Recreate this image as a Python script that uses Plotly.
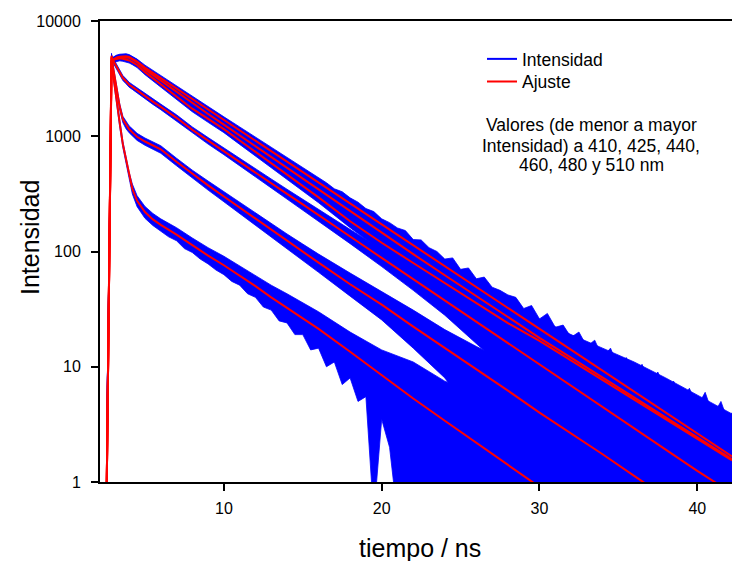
import plotly.graph_objects as go

# time axis (ns)
t_ns = [2.58, 2.75, 2.88, 3.0, 3.2, 3.4, 3.6, 3.8, 4.0, 4.2, 4.5, 5.0, 5.5, 6, 7, 8, 9, 10, 11, 12,
        13, 14, 15, 16, 18, 20, 22, 24, 26, 28, 30, 32, 34, 36, 38, 40, 42.2]

wavelengths = ["410", "425", "440", "460", "480", "510"]

# fitted decays (Ajuste)
fit_410 = [1, 150, 5000, 3300, 2000, 1300, 850, 620, 450, 350, 275, 220, 190, 170, 140, 113, 92, 76, 62, 50,
           40, 32.5, 26.5, 21.3, 13.5, 8.4, 5.3, 3.4, 2.2, 1.42, 0.92, 0.6, 0.39, 0.25, 0.16, 0.1, 0.06]
fit_425 = [1, 150, 4900, 3800, 2500, 1800, 1400, 1250, 1150, 1080, 990, 900, 830, 770, 600, 470, 375, 300, 240, 192,
           154, 123, 99, 80, 52, 34.6, 22.3, 14.6, 9.5, 6.2, 4.0, 2.65, 1.74, 1.13, 0.73, 0.47, 0.3]
fit_440 = [1, 150, 4800, 4500, 4000, 3500, 3200, 3000, 2800, 2680, 2500, 2240, 2000, 1800, 1445, 1135, 915, 741, 600, 484,
           391, 316, 256, 206, 135, 88, 57.4, 37.5, 24.5, 16.0, 10.5, 6.84, 4.47, 2.92, 1.91, 1.25, 0.8]
fit_460 = [1, 150, 4500, 4600, 4700, 4750, 4700, 4650, 4550, 4400, 4150, 3600, 3180, 2800, 2200, 1735, 1414, 1153, 919, 732,
           583, 465, 371, 295, 183, 119, 79.5, 53.2, 35.6, 23.9, 16.8, 11.35, 7.67, 5.19, 3.5, 2.37, 1.54]
fit_480 = [1, 150, 4500, 4650, 4800, 4850, 4850, 4850, 4800, 4650, 4400, 3800, 3400, 3020, 2400, 1935, 1560, 1260, 1015, 817,
           658, 530, 427, 344, 223, 145, 94.8, 62.2, 40.8, 26.8, 17.8, 12.0, 8.05, 5.42, 3.65, 2.45, 1.58]
fit_510 = [1, 150, 4400, 4600, 4800, 4900, 4950, 4950, 4870, 4700, 4450, 3940, 3550, 3190, 2590, 2100, 1705, 1385, 1125, 913,
           741, 601, 488, 396, 261, 172, 113, 74.6, 49.1, 32.4, 21.3, 14.0, 9.25, 6.1, 4.0, 2.64, 1.67]

# measured intensity: lower / upper extent of the noisy counts
t_low_410 = [2.58, 2.75, 2.88, 3.0, 3.2, 3.4, 3.6, 3.8, 4.0, 4.2, 4.5,
             5.0, 5.5, 6.0, 6.5, 7.0, 7.5, 8.0, 8.5, 9.0, 9.5, 10.0, 10.5, 11.0, 11.5, 12.0, 12.5, 13.0, 13.5,
             14.0, 14.5, 15.0, 15.5, 16.0, 16.5, 17.0, 17.5, 18.0, 18.5, 19.0, 19.5, 20.0, 20.5, 21.0,
             22, 24, 26, 28, 30, 32, 34, 36, 38, 40, 42.2]
low_410 = [0.8, 60, 4750, 3100, 1860, 1200, 795, 575, 415, 315, 245,
           194, 168, 150, 134, 124, 106, 98, 86, 78, 69, 63, 55, 51, 43, 40, 33, 31, 25,
           24, 19, 19, 14, 14.5, 10, 11, 7, 8, 5, 5.5, 0.5, 3.5, 2, 0.5,
           0.5, 0.5, 0.5, 0.5, 0.5, 0.5, 0.5, 0.5, 0.5, 0.5, 0.5]
high_410 = [3, 400, 5250, 3500, 2140, 1400, 905, 665, 485, 385, 305, 246, 214, 192, 161, 131, 108, 91, 75, 62,
            51, 43, 36, 30, 20, 14, 11, 7.5, 6, 4.5, 3.5, 3, 2.5, 2, 1.5, 1.2, 1]
low_425 = [0.8, 60, 4650, 3600, 2350, 1690, 1310, 1160, 1070, 1000, 920, 835, 770, 712, 555, 432, 341, 270, 214, 169,
           134, 106, 84, 66, 41, 25.5, 14.5, 8, 3.5, 0.5, 0.5, 0.5, 0.5, 0.5, 0.5, 0.5, 0.5]
high_425 = [3, 400, 5150, 4000, 2650, 1910, 1490, 1340, 1230, 1160, 1060, 965, 890, 828, 645, 508, 409, 330, 266, 215,
            176, 142, 116, 95, 65, 45, 31, 21, 15, 11, 8.5, 6.5, 4.8, 3.6, 2.8, 2.2, 1.8]
low_440 = [0.8, 60, 4560, 4280, 3800, 3320, 3040, 2850, 2660, 2550, 2375, 2120, 1890, 1700, 1355, 1065, 855, 692, 557, 445,
           356, 285, 229, 182, 117, 74, 46, 28, 16, 9, 4, 0.5, 0.5, 0.5, 0.5, 0.5, 0.5]
high_440 = [3, 400, 5040, 4720, 4200, 3680, 3360, 3150, 2940, 2810, 2625, 2360, 2110, 1900, 1535, 1205, 975, 790, 643, 523,
            426, 347, 283, 231, 155, 104, 70, 48, 33.5, 23, 17, 12, 9, 7, 5, 3.8, 2.8]
low_460 = [0.8, 60, 4270, 4370, 4470, 4510, 4470, 4420, 4320, 4180, 3940, 3420, 3020, 2660, 2080, 1630, 1320, 1075, 850, 674,
           533, 422, 334, 265, 161, 101, 65, 41, 26, 16, 9.5, 5, 1.5, 0.5, 0.5, 0.5, 0.5]
high_460 = [3, 400, 4730, 4830, 4930, 4990, 4930, 4880, 4780, 4620, 4360, 3780, 3340, 2940, 2320, 1840, 1510, 1230, 988, 790,
            633, 508, 408, 325, 205, 139, 96, 66, 46, 33, 25, 18, 13.5, 10.5, 7.5, 5.5, 3.8]
low_480 = [0.8, 60, 4270, 4420, 4560, 4610, 4610, 4610, 4560, 4420, 4180, 3610, 3230, 2870, 2270, 1820, 1460, 1175, 940, 755,
           605, 482, 385, 310, 196, 125, 80, 50, 30.5, 18, 10.5, 5.5, 1.5, 0.5, 0.5, 0.5, 0.5]
high_480 = [3, 400, 4730, 4880, 5040, 5090, 5090, 5090, 5040, 4880, 4620, 3990, 3570, 3170, 2530, 2050, 1660, 1345, 1090, 880,
            711, 578, 469, 378, 250, 167, 111, 76, 52, 36, 26, 19, 14.5, 11, 8, 5.7, 3.9]
low_510 = [0.8, 60, 4180, 4370, 4560, 4650, 4700, 4700, 4630, 4470, 4230, 3740, 3370, 3030, 2450, 1980, 1600, 1295, 1045, 845,
           682, 550, 442, 360, 230, 150, 96, 60, 37, 22.5, 13, 7, 2.5, 0.5, 0.5, 0.5, 0.5]
t_high_510 = [2.58, 2.75, 2.88, 3.0, 3.2, 3.4, 3.6, 3.8, 4.0, 4.2, 4.5, 5.0, 5.5, 6, 7, 8, 9, 10, 11, 12,
              13, 14, 15, 16,
              16.5, 17.0, 17.5, 18.0, 18.5, 19.0, 19.5, 20.0, 20.5, 21.0, 21.5, 22.0, 22.5, 23.0, 23.5, 24.0,
              24.5, 25.0, 25.5, 26.0, 26.5, 27.0, 27.5, 28.0, 28.5, 29.0, 29.5, 30.0, 30.5, 31.0, 31.5, 32.0,
              32.5, 33.0, 33.5, 34.0, 34.5, 35.0, 35.5, 36.0, 36.5, 37.0, 37.5, 38.0, 38.5, 39.0, 39.5, 40.0,
              40.5, 41.0, 41.5, 42.0, 42.2]
high_510 = [3, 400, 4620, 4830, 5040, 5150, 5200, 5200, 5110, 4930, 4670, 4140, 3730, 3350, 2730, 2220, 1810, 1475, 1205, 981,
            800, 652, 534, 436,
            395, 350, 330, 292, 268, 236, 222, 192, 178, 160, 152, 127, 126, 108, 100, 86,
            88, 70, 72, 58, 60, 49, 46, 42, 40, 32, 34, 26, 29, 22, 23, 18,
            20, 15, 17, 12, 14.5, 10, 12, 8.5, 10.5, 7, 9, 6, 7.5, 5, 6.5, 4.5,
            6, 3.8, 5, 3.2, 4]

y_tickvals = [1, 10, 100, 1000, 10000]
y_ticktext = ["1", "10", "100", "1000", "10000"]
x_tickvals = [10, 20, 30, 40]

fits = [fit_410, fit_425, fit_440, fit_460, fit_480, fit_510]
bands = [
    (t_low_410, low_410, t_ns, high_410),
    (t_ns, low_425, t_ns, high_425),
    (t_ns, low_440, t_ns, high_440),
    (t_ns, low_460, t_ns, high_460),
    (t_ns, low_480, t_ns, high_480),
    (t_ns, low_510, t_high_510, high_510),
]

BLUE = "#0000FF"
RED = "#FF0000"
FONT = "Liberation Sans, Arial, sans-serif"

fig = go.Figure()

# legend entries (one legend box each, so their spacing can follow the original)
fig.add_trace(go.Scatter(x=[None], y=[None], mode="lines", name="Intensidad",
                         line=dict(color=BLUE, width=2), legend="legend"))
fig.add_trace(go.Scatter(x=[None], y=[None], mode="lines", name="Ajuste",
                         line=dict(color=RED, width=2), legend="legend2"))

# measured data bands
for wl, (tl, lo, th, hi) in zip(wavelengths, bands):
    fig.add_trace(go.Scatter(x=tl, y=lo, mode="lines", line=dict(color=BLUE, width=0.8),
                             showlegend=False, hoverinfo="skip", name=wl + " nm"))
    fig.add_trace(go.Scatter(x=th, y=hi, mode="lines", line=dict(color=BLUE, width=0.8),
                             fill="tonexty", fillcolor=BLUE,
                             showlegend=False, hoverinfo="skip", name=wl + " nm"))

# fits
for wl, f in zip(wavelengths, fits):
    fig.add_trace(go.Scatter(x=t_ns, y=f, mode="lines", line=dict(color=RED, width=2),
                             showlegend=False, name="Ajuste " + wl + " nm"))

def px_x(px):
    return (px - 100) / 632.0

def px_y(py):
    return (482 - py) / 461.0

legend_common = dict(xanchor="left", yanchor="top",
                     font=dict(family=FONT, size=17.5, color="black"),
                     bgcolor="rgba(0,0,0,0)", borderwidth=0, traceorder="normal")

fig.update_layout(
    width=732, height=561,
    margin=dict(l=100, r=0, t=21, b=79),
    paper_bgcolor="white", plot_bgcolor="white",
    font=dict(family=FONT, color="black"),
    showlegend=True,
    legend=dict(x=px_x(482), y=px_y(41), **legend_common),
    legend2=dict(x=px_x(482), y=px_y(63.7), **legend_common),
    xaxis=dict(range=[2.15, 42.2], showline=True, linecolor="black", linewidth=2, mirror=True,
               ticks="outside", ticklen=7, tickwidth=1.5, tickcolor="black",
               tickvals=x_tickvals, tickfont=dict(family=FONT, size=16, color="black"),
               showgrid=False, zeroline=False, ticklabelstandoff=4),
    yaxis=dict(type="log", range=[0, 4], showline=True, linecolor="black", linewidth=2,
               ticks="outside", ticklen=7, tickwidth=1.5, tickcolor="black",
               tickvals=y_tickvals, ticktext=y_ticktext,
               tickfont=dict(family=FONT, size=16, color="black"),
               showgrid=False, zeroline=False, ticklabelstandoff=7),
    annotations=[
        dict(text="tiempo / ns", x=px_x(420), y=px_y(548), xref="paper", yref="paper",
             showarrow=False, xanchor="center", yanchor="middle",
             font=dict(family=FONT, size=25, color="black")),
        dict(text="Intensidad", x=px_x(30), y=px_y(238), xref="paper", yref="paper",
             showarrow=False, xanchor="center", yanchor="middle", textangle=-90,
             font=dict(family=FONT, size=25, color="black")),
        dict(text="Valores (de menor a mayor", x=px_x(591), y=px_y(125), xref="paper", yref="paper",
             showarrow=False, xanchor="center", yanchor="middle",
             font=dict(family=FONT, size=17.5, color="black")),
        dict(text="Intensidad) a 410, 425, 440,", x=px_x(591), y=px_y(145.5), xref="paper", yref="paper",
             showarrow=False, xanchor="center", yanchor="middle",
             font=dict(family=FONT, size=17.5, color="black")),
        dict(text="460, 480 y 510 nm", x=px_x(591), y=px_y(164.5), xref="paper", yref="paper",
             showarrow=False, xanchor="center", yanchor="middle",
             font=dict(family=FONT, size=17.5, color="black")),
    ],
)

fig.write_html("out.html")
